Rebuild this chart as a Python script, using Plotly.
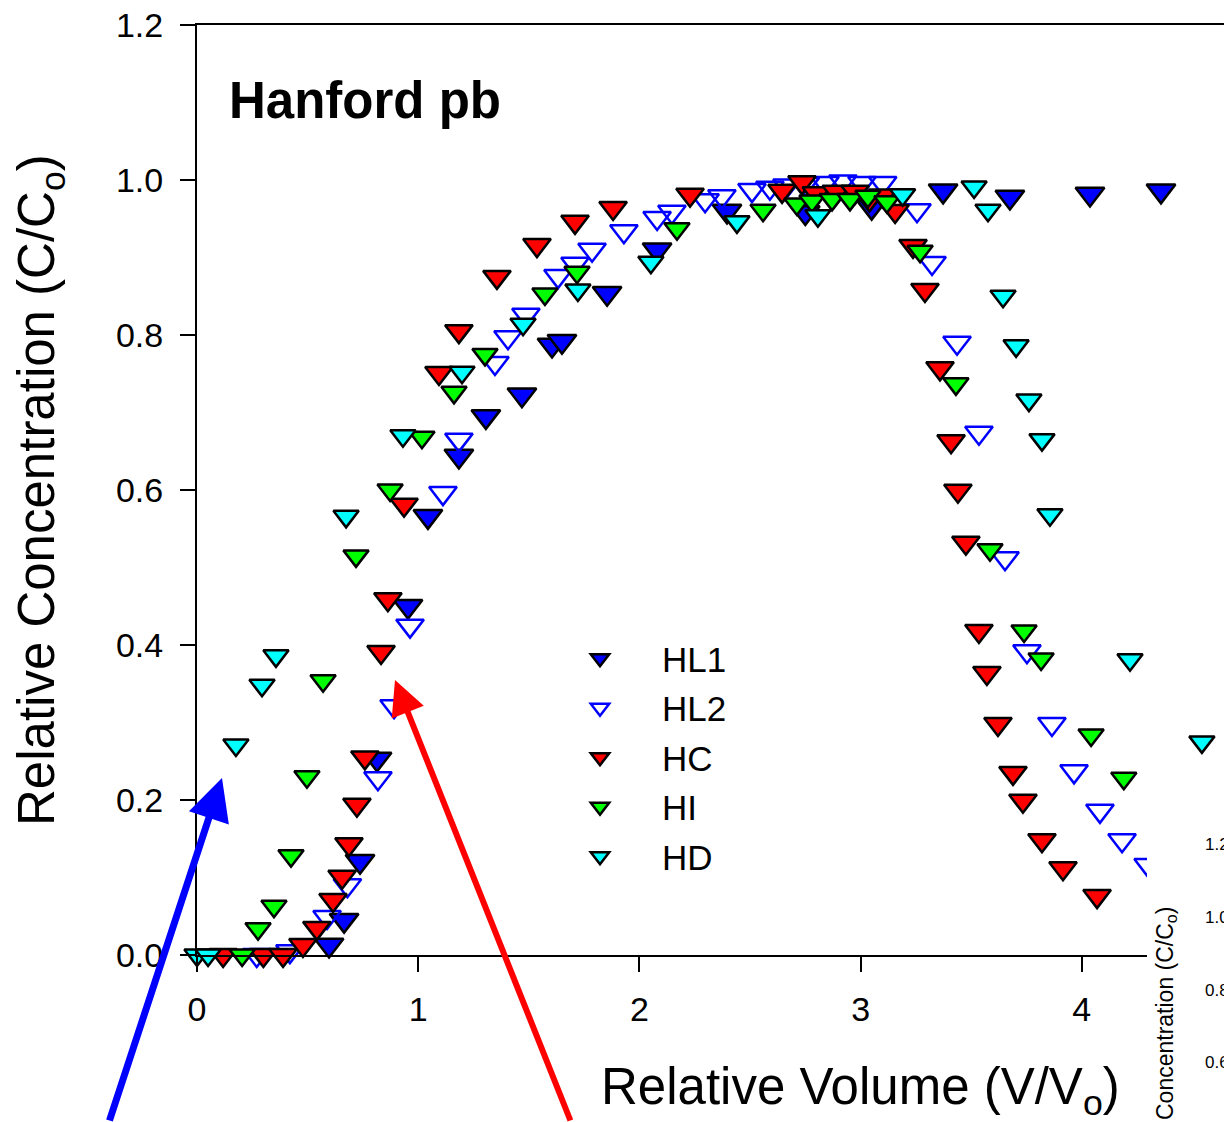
import plotly.graph_objects as go

# ---------------- data ----------------
HL1_x = [0.597, 0.665, 0.737, 0.814, 0.954, 1.044, 1.184, 1.306, 1.469, 1.605, 1.650, 1.854,
         2.080, 2.396, 2.750, 3.050, 3.373, 3.675, 4.037, 4.358, 4.680]
HL1_y = [0.013, 0.045, 0.121, 0.253, 0.450, 0.566, 0.644, 0.695, 0.723, 0.787, 0.792, 0.854,
         0.910, 0.960, 0.958, 0.965, 0.986, 0.978, 0.982, 0.986, 0.986]

HL2_x = [0.270, 0.420, 0.588, 0.680, 0.818, 0.891, 0.963, 1.112, 1.184, 1.347, 1.406, 1.487,
         1.632, 1.709, 1.786, 1.930, 2.080, 2.147, 2.297, 2.373, 2.509, 2.590, 2.667, 2.750,
         2.839, 2.920, 3.006, 3.100, 3.255, 3.323, 3.436, 3.535, 3.653, 3.752, 3.865, 3.965,
         4.082, 4.182, 4.300]
HL2_y = [0.000, 0.005, 0.049, 0.090, 0.228, 0.321, 0.425, 0.596, 0.665, 0.764, 0.797, 0.826,
         0.876, 0.892, 0.910, 0.934, 0.951, 0.959, 0.974, 0.979, 0.987, 0.990, 0.993, 0.995,
         0.996, 0.998, 0.996, 0.996, 0.961, 0.893, 0.790, 0.674, 0.512, 0.392, 0.298, 0.237,
         0.186, 0.148, 0.116]

HC_x = [0.118, 0.300, 0.389, 0.479, 0.542, 0.615, 0.656, 0.687, 0.723, 0.759, 0.832, 0.863,
        0.936, 1.094, 1.184, 1.356, 1.537, 1.709, 1.881, 2.229, 2.645, 2.735, 2.800, 2.890,
        2.975, 3.040, 3.100, 3.156, 3.237, 3.291, 3.359, 3.409, 3.440, 3.476, 3.535, 3.571,
        3.621, 3.689, 3.734, 3.820, 3.915, 4.069]
HC_y = [0.000, 0.000, 0.000, 0.013, 0.035, 0.071, 0.101, 0.143, 0.194, 0.255, 0.391, 0.459,
        0.581, 0.751, 0.805, 0.875, 0.916, 0.946, 0.964, 0.981, 0.986, 0.997, 0.983, 0.985,
        0.985, 0.975, 0.980, 0.960, 0.915, 0.858, 0.757, 0.663, 0.599, 0.532, 0.418, 0.364,
        0.298, 0.235, 0.199, 0.148, 0.112, 0.076]

HI_x = [0.204, 0.276, 0.348, 0.425, 0.497, 0.570, 0.719, 0.873, 1.017, 1.162, 1.302, 1.573,
        1.718, 2.170, 2.559, 2.712, 2.780, 2.871, 2.952, 3.033, 3.119, 3.269, 3.431, 3.585,
        3.739, 3.816, 4.042, 4.190]
HI_y = [0.000, 0.034, 0.063, 0.128, 0.230, 0.354, 0.515, 0.600, 0.668, 0.726, 0.775, 0.853,
        0.881, 0.937, 0.961, 0.969, 0.973, 0.975, 0.975, 0.979, 0.972, 0.908, 0.737, 0.523,
        0.418, 0.382, 0.284, 0.228]

HD_x = [0.000, 0.050, 0.176, 0.294, 0.357, 0.674, 0.931, 1.198, 1.474, 1.722, 2.052, 2.441,
        2.807, 3.190, 3.513, 3.576, 3.644, 3.703, 3.761, 3.820, 3.856, 4.218, 4.543]
HD_y = [0.000, 0.000, 0.271, 0.348, 0.386, 0.566, 0.670, 0.752, 0.814, 0.858, 0.894, 0.946,
        0.954, 0.981, 0.991, 0.961, 0.850, 0.786, 0.716, 0.665, 0.568, 0.381, 0.275]

Y_TICKS = [0.0, 0.2, 0.4, 0.6, 0.8, 1.0, 1.2]
Y_TICK_TEXT = ["0.0", "0.2", "0.4", "0.6", "0.8", "1.0", "1.2"]
X_TICKS = [0, 1, 2, 3, 4]
INSET_TICK_TEXT = ["1.2", "1.0", "0.8", "0.6"]

FONT = "Liberation Sans, Arial, Helvetica, sans-serif"

# ---------------- geometry ----------------
W, H = 1224, 1122
L, T, B = 197, 25, 167
PX_PER_X = 221.2
X_MAX = (W - L) / PX_PER_X


def px_x(p):
    return (p - L) / (W - L)


def px_y(p):
    return (H - B - p) / (H - B - T)


fig = go.Figure()

series = [
    ("HL1", HL1_x, HL1_y, dict(symbol="triangle-down", size=25, color="#0000FF",
                               line=dict(color="black", width=2.5))),
    ("HL2", HL2_x, HL2_y, dict(symbol="triangle-down-open", size=24, color="#0000FF",
                               line=dict(color="#0000FF", width=2.5))),
    ("HC", HC_x, HC_y, dict(symbol="triangle-down", size=24, color="#FF0000",
                            line=dict(color="black", width=2.5))),
    ("HI", HI_x, HI_y, dict(symbol="triangle-down", size=22, color="#00FF00",
                            line=dict(color="black", width=2.5))),
    ("HD", HD_x, HD_y, dict(symbol="triangle-down", size=22, color="#00FFFF",
                            line=dict(color="black", width=2.5))),
]
for name, xs, ys, mk in series:
    fig.add_trace(go.Scatter(x=xs, y=ys, mode="markers", name=name, marker=mk,
                             cliponaxis=False, legendgroup=name))

axis_common = dict(showline=True, linecolor="black", linewidth=2, ticks="outside",
                   ticklen=15, tickwidth=2, tickcolor="black", showgrid=False,
                   zeroline=False, tickfont=dict(family=FONT, size=34, color="black"))

fig.update_layout(
    width=W, height=H,
    margin=dict(l=L, r=0, t=T, b=B, pad=0),
    paper_bgcolor="white", plot_bgcolor="white",
    font=dict(family=FONT, color="black"),
    xaxis=dict(range=[0, X_MAX], tickvals=X_TICKS, mirror=True,
               ticklabelstandoff=8, **axis_common),
    yaxis=dict(range=[0, 1.2], tickvals=Y_TICKS, ticktext=Y_TICK_TEXT,
               ticklabelstandoff=10, **axis_common),
    legend=dict(x=px_x(538), y=px_y(629), xanchor="left", yanchor="top",
                font=dict(family=FONT, size=35, color="black"),
                bgcolor="rgba(0,0,0,0)", borderwidth=0, tracegroupgap=1,
                itemwidth=114),
    showlegend=True,
)

annotations = [
    dict(text="<b>Hanford pb</b>", x=px_x(227), y=px_y(100), xref="paper", yref="paper",
         xanchor="left", yanchor="middle", showarrow=False,
         font=dict(family=FONT, size=51, color="black")),
    dict(text="Relative Volume (V/V<sub>o</sub>)", x=px_x(860), y=px_y(1090),
         xref="paper", yref="paper", xanchor="center", yanchor="middle", showarrow=False,
         font=dict(family=FONT, size=51, color="black")),
    dict(text="Relative Concentration (C/C<sub>o</sub>)", x=px_x(40), y=px_y(490),
         xref="paper", yref="paper", xanchor="center", yanchor="middle", showarrow=False,
         textangle=-90, font=dict(family=FONT, size=51, color="black")),
    # arrows
    dict(text="", x=(222 - L) / PX_PER_X, y=(955 - 778) / 775, xref="x", yref="y",
         showarrow=True, arrowhead=2, arrowsize=1.2, arrowwidth=7, arrowcolor="#0000FF",
         ax=-113, ay=372),
    dict(text="", x=(395 - L) / PX_PER_X, y=(955 - 680) / 775, xref="x", yref="y",
         showarrow=True, arrowhead=2, arrowsize=1.15, arrowwidth=6, arrowcolor="#FF0000",
         ax=176, ay=470),
    # neighbouring inset (cropped)
    dict(text="Relative Concentration (C/C<sub>o</sub>)", x=px_x(1166), y=px_y(905),
         xref="paper", yref="paper", xanchor="center", yanchor="top", showarrow=False,
         textangle=-90, font=dict(family=FONT, size=23, color="black")),
]
for txt, py in zip(INSET_TICK_TEXT, [844, 917, 990, 1062]):
    annotations.append(dict(text=txt, x=px_x(1203), y=px_y(py), xref="paper", yref="paper",
                            xanchor="left", yanchor="middle", showarrow=False,
                            font=dict(family=FONT, size=17, color="black")))
fig.update_layout(annotations=annotations)

fig.add_shape(type="rect", xref="paper", yref="paper", x0=px_x(1147), x1=1.05,
              y0=px_y(1140), y1=px_y(808), fillcolor="white", line=dict(width=0),
              layer="above")

fig.write_html(
    "out.html",
    config={"displayModeBar": False},
    post_script="document.body.style.margin='0';document.body.style.overflow='hidden';",
)
